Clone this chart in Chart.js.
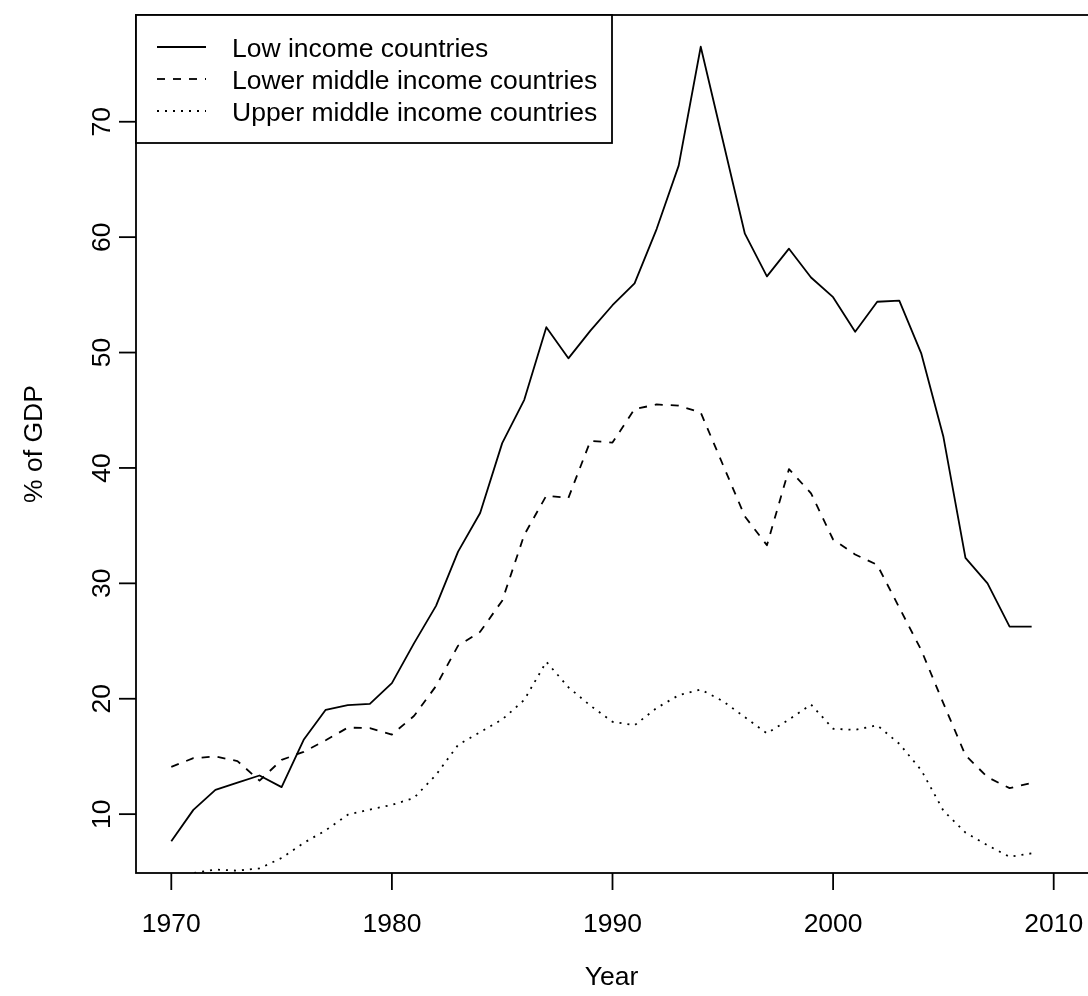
<!DOCTYPE html>
<html>
<head>
<meta charset="utf-8">
<title>% of GDP by income group</title>
<script src="https://cdn.jsdelivr.net/npm/chart.js@4"></script>
<style>
  html, body { margin: 0; padding: 0; background: #fff; }
  #wrap { width: 1088px; height: 996px; overflow: hidden; position: relative; }
  #chart { display: block; }
</style>
</head>
<body>
<div id="wrap"><canvas id="chart" width="1092" height="996"></canvas></div>
<script>
// ===== DATA =====
const years = [1970, 1971, 1972, 1973, 1974, 1975, 1976, 1977, 1978, 1979,
               1980, 1981, 1982, 1983, 1984, 1985, 1986, 1987, 1988, 1989,
               1990, 1991, 1992, 1993, 1994, 1995, 1996, 1997, 1998, 1999,
               2000, 2001, 2002, 2003, 2004, 2005, 2006, 2007, 2008, 2009];

const lowIncome = [7.66, 10.37, 12.1, 12.74, 13.35, 12.34, 16.44, 19.04, 19.45, 19.56,
                   21.35, 24.8, 28.05, 32.75, 36.1, 42.15, 45.9, 52.2, 49.5, 51.9,
                   54.1, 56.0, 60.7, 66.2, 76.5, 68.4, 60.3, 56.6, 59.0, 56.5,
                   54.8, 51.8, 54.4, 54.5, 49.9, 42.7, 32.2, 30.0, 26.25, 26.25];

const lowerMiddle = [14.1, 14.85, 15.0, 14.6, 12.9, 14.7, 15.4, 16.4, 17.5, 17.45,
                     16.9, 18.5, 21.1, 24.6, 25.8, 28.5, 34.2, 37.6, 37.4, 42.35,
                     42.2, 45.1, 45.5, 45.4, 44.8, 40.3, 35.8, 33.3, 39.9, 37.8,
                     33.8, 32.5, 31.6, 27.9, 24.2, 19.6, 15.1, 13.2, 12.25, 12.7];

const upperMiddle = [4.3, 4.9, 5.2, 5.1, 5.3, 6.2, 7.5, 8.6, 9.95, 10.4,
                     10.8, 11.4, 13.4, 16.0, 17.1, 18.2, 19.9, 23.2, 21.0, 19.4,
                     18.0, 17.7, 19.2, 20.3, 20.8, 19.8, 18.4, 17.0, 18.2, 19.5,
                     17.4, 17.3, 17.7, 16.1, 13.8, 10.3, 8.4, 7.3, 6.3, 6.6];

const seriesNames = ["Low income countries", "Lower middle income countries", "Upper middle income countries"];
const xTicks = [1970, 1980, 1990, 2000, 2010];
const yTicks = [10, 20, 30, 40, 50, 60, 70];
const xTitle = "Year";
const yTitle = "% of GDP";

// ===== STYLE =====
const FONT = '"Liberation Sans", Arial, Helvetica, sans-serif';
const FS = 26.5;
const LW = 1.8;
const dashes = [[], [8, 8], [2, 6]];

function toPoints(vals) {
  return years.map((yr, i) => ({ x: yr, y: vals[i] }));
}

// R-style box, axes, titles and legend
const rStyle = {
  id: "rStyle",
  afterDraw(chart) {
    const { ctx, chartArea: a } = chart;
    const xs = chart.scales.x, ys = chart.scales.y;
    const tick = 17;
    const mid = FS * 0.36; // baseline offset so caps/digits sit centred
    ctx.save();
    ctx.strokeStyle = "#000";
    ctx.fillStyle = "#000";
    ctx.lineWidth = LW;
    ctx.setLineDash([]);
    ctx.lineCap = "butt";
    ctx.strokeRect(a.left, a.top, a.right - a.left, a.bottom - a.top);

    ctx.font = `${FS}px ${FONT}`;
    // x axis
    ctx.textAlign = "center";
    ctx.textBaseline = "alphabetic";
    xTicks.forEach(v => {
      const px = xs.getPixelForValue(v);
      ctx.beginPath();
      ctx.moveTo(px, a.bottom);
      ctx.lineTo(px, a.bottom + tick);
      ctx.stroke();
      ctx.fillText(String(v), px, a.bottom + 49 + mid);
    });
    // y axis (labels rotated like R)
    yTicks.forEach(v => {
      const py = ys.getPixelForValue(v);
      ctx.beginPath();
      ctx.moveTo(a.left, py);
      ctx.lineTo(a.left - tick, py);
      ctx.stroke();
      ctx.save();
      ctx.translate(100 + mid, py);
      ctx.rotate(-Math.PI / 2);
      ctx.fillText(String(v), 0, 0);
      ctx.restore();
    });
    // titles
    ctx.fillText(xTitle, (a.left + a.right) / 2 - 1, a.bottom + 102 + mid);
    ctx.save();
    ctx.translate(32 + mid, (a.top + a.bottom) / 2);
    ctx.rotate(-Math.PI / 2);
    ctx.fillText(yTitle, 0, 0);
    ctx.restore();

    // legend
    const box = { left: a.left, top: a.top, right: 612, bottom: 143 };
    ctx.fillStyle = "#fff";
    ctx.fillRect(box.left, box.top, box.right - box.left, box.bottom - box.top);
    ctx.fillStyle = "#000";
    ctx.strokeRect(box.left, box.top, box.right - box.left, box.bottom - box.top);
    const rowStep = (box.bottom - box.top) / 4;
    ctx.textAlign = "left";
    chart.data.datasets.forEach((ds, i) => {
      const y = box.top + rowStep * (i + 1);
      ctx.setLineDash(ds.borderDash || []);
      ctx.beginPath();
      ctx.moveTo(157, y);
      ctx.lineTo(206, y);
      ctx.stroke();
      ctx.setLineDash([]);
      ctx.fillText(ds.label, 232, y + mid);
    });
    ctx.restore();
  }
};

new Chart(document.getElementById("chart"), {
  type: "line",
  data: {
    datasets: [lowIncome, lowerMiddle, upperMiddle].map((vals, i) => ({
      label: seriesNames[i],
      data: toPoints(vals),
      borderColor: "#000",
      borderWidth: LW,
      borderDash: dashes[i],
      borderCapStyle: "butt",
      borderJoinStyle: "round",
      pointRadius: 0,
      tension: 0,
      fill: false
    }))
  },
  options: {
    responsive: false,
    animation: false,
    layout: { padding: { left: 136, top: 15, right: 3, bottom: 123 } },
    scales: {
      x: { type: "linear", min: 1968.4, max: 2011.6, display: false },
      y: { type: "linear", min: 4.9, max: 79.25, display: false }
    },
    plugins: { legend: { display: false }, tooltip: { enabled: false } }
  },
  plugins: [rStyle]
});
</script>
</body>
</html>
